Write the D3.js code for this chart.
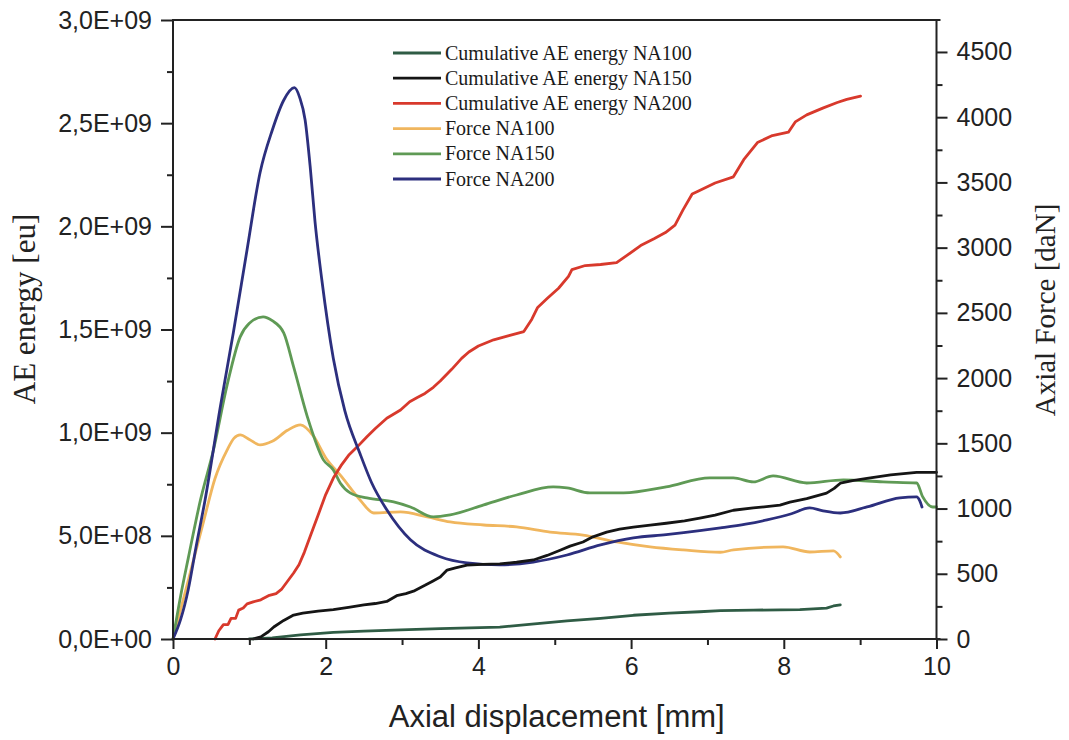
<!DOCTYPE html>
<html>
<head>
<meta charset="utf-8">
<script src="https://cdn.jsdelivr.net/npm/d3@7"></script>
<style>
  html, body { margin: 0; padding: 0; background: #fff; }
  svg { display: block; }
</style>
</head>
<body>
<svg id="chart" width="1069" height="740"></svg>
<script>
// ---------------- DATA ----------------
const xTicks = [0, 2, 4, 6, 8, 10];
const leftTicks = [0, 5e8, 1e9, 1.5e9, 2e9, 2.5e9, 3e9];
const leftTickLabels = ["0,0E+00", "5,0E+08", "1,0E+09", "1,5E+09", "2,0E+09", "2,5E+09", "3,0E+09"];
const rightTicks = [0, 500, 1000, 1500, 2000, 2500, 3000, 3500, 4000, 4500];

const seriesNames = [
  "Cumulative AE energy NA100",
  "Cumulative AE energy NA150",
  "Cumulative AE energy NA200",
  "Force NA100",
  "Force NA150",
  "Force NA200"
];

// cumulative AE energy [eu] vs displacement [mm]
const cumNA100 = [[1.0,0],[1.3,0.005e9],[1.67,0.02e9],[2.1,0.032e9],[2.5,0.038e9],[2.98,0.044e9],[3.5,0.05e9],[4.28,0.058e9],[4.7,0.072e9],[5.16,0.088e9],[5.6,0.1e9],[6.03,0.115e9],[6.5,0.125e9],[6.9,0.132e9],[7.17,0.138e9],[7.6,0.14e9],[8.21,0.142e9],[8.56,0.15e9],[8.65,0.16e9],[8.74,0.165e9]];

const cumNA150 = [[1.05,0],[1.15,0.01e9],[1.25,0.035e9],[1.32,0.058e9],[1.45,0.09e9],[1.58,0.116e9],[1.7,0.125e9],[1.9,0.135e9],[2.1,0.142e9],[2.32,0.155e9],[2.5,0.165e9],[2.65,0.172e9],[2.8,0.182e9],[2.93,0.21e9],[3.05,0.22e9],[3.15,0.232e9],[3.3,0.26e9],[3.4,0.28e9],[3.5,0.3e9],[3.59,0.334e9],[3.7,0.345e9],[3.85,0.358e9],[4.05,0.362e9],[4.28,0.364e9],[4.5,0.372e9],[4.72,0.383e9],[4.9,0.405e9],[5.07,0.43e9],[5.2,0.45e9],[5.37,0.47e9],[5.5,0.495e9],[5.68,0.518e9],[5.85,0.532e9],[6.03,0.542e9],[6.25,0.552e9],[6.46,0.561e9],[6.7,0.572e9],[6.9,0.586e9],[7.1,0.6e9],[7.34,0.624e9],[7.6,0.635e9],[7.95,0.649e9],[8.08,0.663e9],[8.3,0.68e9],[8.56,0.707e9],[8.66,0.73e9],[8.74,0.755e9],[8.9,0.768e9],[9.09,0.779e9],[9.4,0.795e9],[9.74,0.808e9],[10,0.808e9]];

const cumNA200 = [[0.55,0],[0.6,0.04e9],[0.66,0.07e9],[0.72,0.07e9],[0.76,0.1e9],[0.82,0.1e9],[0.86,0.14e9],[0.92,0.15e9],[0.97,0.17e9],[1.05,0.18e9],[1.15,0.19e9],[1.25,0.21e9],[1.35,0.22e9],[1.42,0.24e9],[1.5,0.28e9],[1.58,0.32e9],[1.65,0.36e9],[1.72,0.42e9],[1.8,0.5e9],[1.9,0.6e9],[2.0,0.7e9],[2.1,0.78e9],[2.2,0.84e9],[2.3,0.89e9],[2.41,0.93e9],[2.54,0.98e9],[2.65,1.02e9],[2.8,1.07e9],[2.98,1.11e9],[3.1,1.15e9],[3.2,1.17e9],[3.3,1.19e9],[3.41,1.22e9],[3.5,1.25e9],[3.65,1.307e9],[3.78,1.36e9],[3.875,1.391e9],[4.0,1.42e9],[4.2,1.45e9],[4.4,1.47e9],[4.595,1.49e9],[4.7,1.55e9],[4.776,1.607e9],[4.9,1.65e9],[5.05,1.7e9],[5.18,1.757e9],[5.225,1.79e9],[5.4,1.81e9],[5.6,1.815e9],[5.81,1.824e9],[5.95,1.86e9],[6.125,1.907e9],[6.3,1.94e9],[6.45,1.97e9],[6.575,2.006e9],[6.68,2.08e9],[6.8,2.157e9],[6.89,2.173e9],[7.1,2.21e9],[7.34,2.24e9],[7.475,2.323e9],[7.655,2.406e9],[7.85,2.44e9],[8.06,2.456e9],[8.15,2.506e9],[8.3,2.54e9],[8.51,2.573e9],[8.7,2.6e9],[8.825,2.615e9],[9.005,2.631e9]];

// axial force [daN] vs displacement [mm]
const forceNA100 = [[0,0],[0.2,450],[0.4,900],[0.55,1230],[0.71,1450],[0.8,1540],[0.88,1565],[1.0,1530],[1.14,1488],[1.3,1515],[1.5,1600],[1.67,1641],[1.84,1555],[2.0,1390],[2.2,1250],[2.45,1066],[2.63,966],[2.98,974],[3.33,936],[3.63,897],[4.07,874],[4.5,859],[4.94,820],[5.37,797],[5.81,744],[6.25,706],[6.68,683],[7.17,665],[7.34,683],[7.99,706],[8.34,667],[8.65,675],[8.74,629]];

const forceNA150 = [[0,0],[0.1,330],[0.2,620],[0.36,1066],[0.53,1450],[0.71,1950],[0.88,2316],[1.0,2420],[1.18,2470],[1.3,2440],[1.45,2347],[1.58,2086],[1.76,1703],[1.97,1373],[2.1,1296],[2.19,1196],[2.32,1120],[2.54,1081],[2.89,1051],[3.11,1012],[3.41,936],[3.63,951],[4.07,1028],[4.5,1104],[4.98,1166],[5.16,1158],[5.46,1120],[5.9,1120],[6.46,1166],[7.03,1235],[7.34,1235],[7.6,1204],[7.86,1250],[8.3,1196],[8.78,1220],[9.3,1204],[9.74,1196],[9.82,1089],[9.95,1012],[10,1012]];

const forceNA200 = [[0,0],[0.1,150],[0.2,380],[0.3,700],[0.42,1066],[0.62,1780],[0.79,2347],[0.97,2984],[1.14,3574],[1.3,3900],[1.45,4130],[1.59,4226],[1.66,4150],[1.73,3980],[1.8,3600],[1.86,3200],[1.95,2750],[2.1,2150],[2.25,1750],[2.45,1420],[2.6,1200],[2.8,990],[3.11,760],[3.5,630],[3.85,583],[4.28,568],[4.72,590],[5.16,644],[5.6,721],[6.03,775],[6.46,800],[6.9,830],[7.17,851],[7.5,880],[7.78,913],[8.1,960],[8.34,1005],[8.5,985],[8.74,966],[9.09,1012],[9.52,1082],[9.74,1089],[9.78,1060],[9.81,1012]];

const seriesColors = ["#2f5c45", "#151515", "#d8392c", "#f0b65e", "#5f9a55", "#2c2f7e"];

// ---------------- LAYOUT ----------------
const L = 173, R = 936.5, T = 20, B = 639;
const svg = d3.select("#chart");

const x = d3.scaleLinear().domain([0, 10]).range([L, R]);
const yL = d3.scaleLinear().domain([0, 3e9]).range([B, T]);
const yR = d3.scaleLinear().domain([0, 4745]).range([B, T]);

const tickFont = "'Liberation Sans', Arial, sans-serif";
const serif = "'Liberation Serif', 'Times New Roman', serif";

// ---- series ----
const lineL = d3.line().x(d => x(d[0])).y(d => yL(d[1])).curve(d3.curveLinear);
const lineR = d3.line().x(d => x(d[0])).y(d => yR(d[1])).curve(d3.curveMonotoneX);

const gLines = svg.append("g");
const drawOrder = [
  {data: forceNA100, gen: lineR, c: 3},
  {data: forceNA150, gen: lineR, c: 4},
  {data: cumNA100, gen: lineL, c: 0},
  {data: cumNA200, gen: lineL, c: 2},
  {data: forceNA200, gen: lineR, c: 5},
  {data: cumNA150, gen: lineL, c: 1}
];
drawOrder.forEach(s => {
  gLines.append("path")
    .attr("d", s.gen(s.data))
    .attr("fill", "none")
    .attr("stroke", seriesColors[s.c])
    .attr("stroke-width", 2.8)
    .attr("stroke-linejoin", "round")
    .attr("stroke-linecap", "round");
});

// ---- axes ----
const axisColor = "#222";
const xAxis = d3.axisBottom(x).tickValues(xTicks).tickSize(10).tickPadding(8).tickFormat(d3.format("d"));
svg.append("g").attr("transform", `translate(0,${B})`).call(xAxis);
const xMinor = d3.axisBottom(x).tickValues(d3.range(1, 10, 2)).tickSize(6).tickFormat("");
svg.append("g").attr("transform", `translate(0,${B})`).call(xMinor);

const yAxisL = d3.axisLeft(yL).tickValues(leftTicks).tickSize(12).tickPadding(9)
  .tickFormat((d, i) => leftTickLabels[i]);
svg.append("g").attr("transform", `translate(${L},0)`).call(yAxisL);
const yMinorL = d3.axisLeft(yL).tickValues(d3.range(2.5e8, 3e9, 5e8)).tickSize(6).tickFormat("");
svg.append("g").attr("transform", `translate(${L},0)`).call(yMinorL);

const yAxisR = d3.axisRight(yR).tickValues(rightTicks).tickSize(11).tickPadding(9).tickFormat(d3.format("d"));
svg.append("g").attr("transform", `translate(${R},0)`).call(yAxisR);
const yMinorR = d3.axisRight(yR).tickValues(d3.range(250, 4745, 500)).tickSize(6).tickFormat("");
svg.append("g").attr("transform", `translate(${R},0)`).call(yMinorR);

svg.selectAll(".tick line").attr("stroke", axisColor).attr("stroke-width", 2);
svg.selectAll(".tick text").attr("font-family", tickFont).attr("font-size", 25).attr("fill", "#222");
svg.selectAll(".domain").remove();

// frame lines
const frame = svg.append("g").attr("stroke", axisColor).attr("stroke-width", 2);
frame.append("line").attr("x1", L).attr("x2", L).attr("y1", T).attr("y2", B + 1);
frame.append("line").attr("x1", R).attr("x2", R).attr("y1", T).attr("y2", B + 1);
frame.append("line").attr("x1", L - 1).attr("x2", R + 4).attr("y1", B).attr("y2", B);
frame.append("line").attr("x1", L - 1).attr("x2", R + 4).attr("y1", T).attr("y2", T);

// ---- axis titles ----
svg.append("text")
  .attr("x", (L + R) / 2 + 2).attr("y", 727)
  .attr("text-anchor", "middle")
  .attr("font-family", tickFont).attr("font-size", 31).attr("fill", "#222")
  .text("Axial displacement [mm]");

svg.append("text")
  .attr("transform", `translate(35,309) rotate(-90)`)
  .attr("text-anchor", "middle")
  .attr("font-family", serif).attr("font-size", 31).attr("fill", "#222")
  .text("AE energy [eu]");

svg.append("text")
  .attr("transform", `translate(1055,310) rotate(-90)`)
  .attr("text-anchor", "middle")
  .attr("font-family", serif).attr("font-size", 29).attr("fill", "#222")
  .text("Axial Force [daN]");

// ---- legend ----
const legend = svg.append("g");
const legY0 = 53, legDy = 25.2;
seriesNames.forEach((name, i) => {
  const yy = legY0 + i * legDy;
  legend.append("line")
    .attr("x1", 393).attr("x2", 441).attr("y1", yy).attr("y2", yy)
    .attr("stroke", seriesColors[i]).attr("stroke-width", 2.8);
  legend.append("text")
    .attr("x", 445).attr("y", yy + 6.5)
    .attr("font-family", serif).attr("font-size", 20).attr("fill", "#1a1a1a")
    .text(name);
});
</script>
</body>
</html>
